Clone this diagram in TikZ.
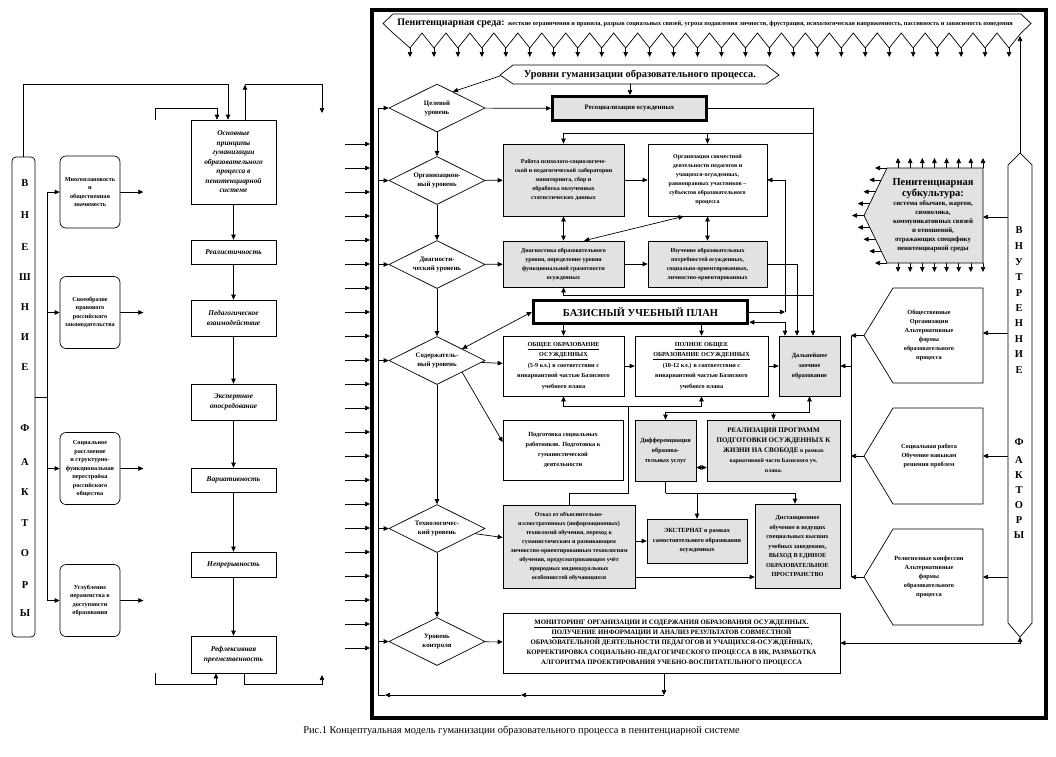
\documentclass[tikz,border=0pt]{standalone}
\usepackage{fontspec}
\setmainfont{Liberation Serif}
\usetikzlibrary{arrows.meta,calc,positioning,shapes.geometric}
\definecolor{boxgrey}{RGB}{226,226,226}

\begin{document}
\begin{tikzpicture}[
      x=1pt, y=-1pt,
      >={Triangle[length=5pt,width=4.5pt]},
      line width=0.7pt,
      box/.style={draw, align=center, inner sep=1pt, font=\fontsize{6}{9}\selectfont\bfseries},
      greybox/.style={box, fill=boxgrey},
      level/.style={diamond, draw, aspect=2, inner sep=0pt, minimum width=96pt, minimum height=48pt, align=center, font=\fontsize{6.8}{9}\selectfont\bfseries},
      principle/.style={draw, minimum width=85pt, align=center, inner sep=1pt, font=\fontsize{7.4}{9.5}\selectfont\bfseries\itshape},
      factor/.style={draw, rounded corners=6pt, minimum width=60pt, minimum height=72pt, align=center, inner sep=1pt, font=\fontsize{6.2}{8.5}\selectfont\bfseries},
      letter/.style={font=\fontsize{10.5}{10.5}\selectfont\bfseries, inner sep=0pt},
      small/.style={font=\fontsize{6.3}{9}\selectfont\bfseries, align=center, inner sep=0pt}
    ]
    \useasboundingbox (0,0) rectangle (1056,756);

    % -------- ВНЕШНИЕ ФАКТОРЫ --------
    \node[draw, rounded corners=4pt, minimum width=23pt, minimum height=480pt, inner sep=0pt] (ext) at (23.5,397) {};
    \foreach \ch/\yy [count=\i] in {В/183,Н/215,Е/247,Ш/277,Н/307,И/337,Е/367,Ф/428,А/462,К/492,Т/523,О/553,Р/585,Ы/613}
      \node[letter] (extch\i) at (25,\yy) {\ch};

    \node[factor] (f1) at (90,192) {Многоплановость\\ и\\ общественная\\ значимость};
    \node[factor] (f2) at (90,312.5) {Своеобразие\\ правового\\ российского\\ законодательства};
    \node[factor] (f3) at (90,468.5) {Социальное\\ расслоение\\ и структурно-\\ функциональная\\ перестройка\\ российского\\ общества};
    \node[factor] (f4) at (90,600.5) {Углубление\\ неравенства в\\ доступности\\ образования};

    \coordinate (extbus) at (47,397);
    \draw (ext.east) -- (extbus);
    \draw (extbus |- f1.west) -- (extbus |- f4.west);
    \foreach \f in {f1,f2,f3,f4}{
      \draw[->] (extbus |- \f.west) -- (\f.west);
      \draw[->] (\f.east) -- ++(23,0);
    }

    % -------- принципы --------
    \node[principle, minimum height=84pt] (p1) at (233.5,162) {Основные\\ принципы\\ гуманизации\\ образовательного\\ процесса в\\ пенитенциарной\\ системе};
    \node[principle, minimum height=24pt] (p2) at (233.5,252) {Реалистичность};
    \node[principle, minimum height=36pt] (p3) at (233.5,318) {Педагогическое\\ взаимодействие};
    \node[principle, minimum height=36pt] (p4) at (233.5,402) {Экспертное\\ опосредование};
    \node[principle, minimum height=24pt] (p5) at (233.5,480) {Вариативность};
    \node[principle, minimum height=25pt] (p6) at (233.5,564.5) {Непрерывность};
    \node[principle, minimum height=37pt] (p7) at (233.5,654.5) {Рефлексивная\\ преемственность};
    \foreach \a/\b in {p1/p2,p2/p3,p3/p4,p4/p5,p5/p6,p6/p7}
      \draw[->] (\a) -- (\b);

    \draw[->] (ext.north) |- ([xshift=-5.5pt,yshift=35pt]p1.north) -- ([xshift=-5.5pt]p1.north);
    \coordinate (stubA) at (155,120);
    \draw[->] (stubA) |- ([xshift=-16.5pt,yshift=11pt]p1.north) -- ([xshift=-16.5pt]p1.north);
    \coordinate (p1up) at ([xshift=11.5pt,yshift=35pt]p1.north);
    \draw[->] ([xshift=11.5pt]p1.north) -- (p1up);
    \coordinate (stubB) at (322,113);
    \draw[->] (p1up) -| (stubB);
    \coordinate (stubC) at (155,673);
    \draw[->] (stubC) |- ([xshift=-17.5pt,yshift=-11pt]p7.south) -- ([xshift=-17.5pt]p7.south);
    \coordinate (stubD) at (322,675);
    \draw[->] ([xshift=10.5pt]p7.south) |- ([yshift=-9pt]stubD) -- (stubD);

    \foreach \k in {0,...,21}
      \draw[->] (345,{144+24*\k}) -- (370,{144+24*\k});

    % -------- рамка и среда --------
    \node[draw, line width=3.5pt, minimum width=674pt, minimum height=708pt, inner sep=0pt] (frame) at (709,364) {};

    \draw (393,33) \foreach \k in {0,...,25} { -- ({410+23.96*\k},48) -- ({422+23.96*\k},33) }
      -- (1031,23.5) -- (1021,14) -- (393,14) -- (383,23.5) -- cycle;
    \foreach \k in {0,...,25}
      \draw[->] ({410+23.96*\k},48) -- ({410+23.96*\k},57);
    \node[anchor=west, inner sep=0pt] (env) at (397,23.5)
      {{\fontsize{10}{10}\selectfont\bfseries Пенитенциарная среда:} {\fontsize{6.3}{7}\selectfont\bfseries жесткие ограничения и правила, разрыв социальных связей, угроза подавления личности, фрустрация, психологическая напряженность, пассивность и зависимость поведения}};

    \draw (500,75) -- (513,65) -- (766,65) -- (779,75) -- (766,84) -- (513,84) -- cycle;
    \node[font=\fontsize{10.4}{11}\selectfont\bfseries] (levels) at (640,74.5) {Уровни гуманизации образовательного процесса.};
    \coordinate (levW) at (500,76);
    \coordinate (levS) at (630,84);

    % -------- уровни --------
    \node[level] (d1) at (437,108) {Целевой\\ уровень};
    \node[level] (d2) at (437,180.5) {Организацион-\\ ный уровень};
    \node[level] (d3) at (437,264.5) {Диагности-\\ ческий уровень};
    \node[level] (d4) at (437,360.5) {Содержатель-\\ ный уровень};
    \node[level] (d5) at (437,528.5) {Технологичес-\\ кий уровень};
    \node[level] (d6) at (437,641.5) {Уровень\\ контроля};
    \foreach \a/\b in {d1/d2,d2/d3,d3/d4,d4/d5,d5/d6}
      \draw[->] (\a) -- (\b);
    \draw[->] (levW) -- ($(d1.north)!0.33!(d1.east)$);

    % -------- блоки --------
    \node[greybox, line width=3pt, minimum width=154pt, minimum height=24pt, font=\fontsize{6.8}{9}\selectfont\bfseries] (resoc) at (629.5,108.5) {Ресоциализация осужденных};
    \node[greybox, minimum width=121pt, minimum height=72pt] (rab) at (563.5,180) {Работа психолого-социологиче-\\ской и педагогической лаборатории\\ мониторинга, сбор и\\ обработка полученных\\ статистических данных};
    \node[box, minimum width=119pt, minimum height=72pt] (org) at (707.5,180) {Организация совместной\\ деятельности педагогов и\\ учащихся-осужденных,\\ равноправных участников –\\ субъектов образовательного\\ процесса};
    \node[greybox, minimum width=121pt, minimum height=46pt] (diag) at (563.5,264) {Диагностика образовательного\\ уровня, определение уровня\\ функциональной грамотности\\ осужденных};
    \node[greybox, minimum width=119pt, minimum height=46pt] (izu) at (707.5,264) {Изучение образовательных\\ потребностей осужденных,\\ социально-ориентированных,\\ личностно-ориентированных};
    \node[box, line width=3.5pt, minimum width=214pt, minimum height=23pt, font=\fontsize{10.5}{11}\selectfont\bfseries] (basis) at (640.5,312) {БАЗИСНЫЙ УЧЕБНЫЙ ПЛАН};
    \node[box, minimum width=121pt, minimum height=60pt, font=\fontsize{6.2}{10.5}\selectfont\bfseries] (obs) at (563.5,366) {\underline{ОБЩЕЕ ОБРАЗОВАНИЕ}\\ \underline{ОСУЖДЕННЫХ}\\ (5-9 кл.) в соответствии с\\ инвариантной частью Базисного\\ учебного плана};
    \node[box, minimum width=133pt, minimum height=60pt, font=\fontsize{6.2}{10.5}\selectfont\bfseries] (pol) at (701.5,366) {\underline{ПОЛНОЕ ОБЩЕЕ}\\ \underline{ОБРАЗОВАНИЕ ОСУЖДЕННЫХ}\\ (10-12 кл.) в соответствии с\\ инвариантной частью Базисного\\ учебного плана};
    \node[greybox, minimum width=61pt, minimum height=60pt, font=\fontsize{6.3}{10}\selectfont\bfseries] (dal) at (809.5,366) {Дальнейшее\\ заочное\\ образование};
    \node[box, minimum width=120pt, minimum height=60pt, font=\fontsize{6.3}{10}\selectfont\bfseries] (pod) at (563,450) {Подготовка социальных\\ работников. Подготовка к\\ гуманистической\\ деятельности};
    \node[greybox, minimum width=61pt, minimum height=61pt, font=\fontsize{6.3}{10}\selectfont\bfseries] (dif) at (665.5,450.5) {Дифференциация\\ образова-\\ тельных услуг};
    \node[greybox, minimum width=133pt, minimum height=61pt, font=\fontsize{7}{10}\selectfont\bfseries] (real) at (773.5,450.5) {РЕАЛИЗАЦИЯ ПРОГРАММ\\ ПОДГОТОВКИ ОСУЖДЕННЫХ К\\ ЖИЗНИ НА СВОБОДЕ {\fontsize{5.8}{10}\selectfont в рамках}\\ {\fontsize{5.8}{10}\selectfont вариативной части Базисного уч.}\\ {\fontsize{5.8}{10}\selectfont плана.}};
    \node[greybox, minimum width=132pt, minimum height=83pt] (otk) at (569,546.5) {Отказ от объяснительно-\\ иллюстративных (информационных)\\ технологий обучения, переход к\\ гуманистическим и развивающим\\ личностно-ориентированным технологиям\\ обучения, предусматривающим учёт\\ природных индивидуальных\\ особенностей обучающихся};
    \node[greybox, minimum width=100pt, minimum height=44pt, font=\fontsize{6.3}{9.5}\selectfont\bfseries] (ekst) at (697,541) {ЭКСТЕРНАТ в рамках\\ самостоятельного образования\\ осужденных};
    \node[greybox, minimum width=85pt, minimum height=84pt, font=\fontsize{6.2}{9.5}\selectfont\bfseries] (dist) at (797.5,546) {Дистанционное\\ обучение в ведущих\\ специальных высших\\ учебных заведениях,\\ ВЫХОД В ЕДИНОЕ\\ ОБРАЗОВАТЕЛЬНОЕ\\ ПРОСТРАНСТВО};
    \node[box, minimum width=337pt, minimum height=60pt, font=\fontsize{6.8}{10}\selectfont\bfseries] (mon) at (671.5,643) {\underline{МОНИТОРИНГ ОРГАНИЗАЦИИ И СОДЕРЖАНИЯ ОБРАЗОВАНИЯ ОСУЖДЕННЫХ.}\\ \underline{ПОЛУЧЕНИЕ ИНФОРМАЦИИ И АНАЛИЗ РЕЗУЛЬТАТОВ СОВМЕСТНОЙ}\\ ОБРАЗОВАТЕЛЬНОЙ ДЕЯТЕЛЬНОСТИ ПЕДАГОГОВ И УЧАЩИХСЯ-ОСУЖДЕННЫХ,\\ КОРРЕКТИРОВКА СОЦИАЛЬНО-ПЕДАГОГИЧЕСКОГО ПРОЦЕССА В ИК, РАЗРАБОТКА\\ АЛГОРИТМА ПРОЕКТИРОВАНИЯ УЧЕБНО-ВОСПИТАТЕЛЬНОГО ПРОЦЕССА};

    % связи уровней с блоками
    \draw[->] (levS) -- (levS |- resoc.north);
    \draw[->] (d1) -- (resoc);
    \draw[->] (d2) -- (rab);
    \draw[->] (rab) -- (org);
    \draw[->] (d3) -- (diag);
    \draw[->] (diag) -- (izu);
    \draw[<->] (rab) -- (diag);
    \draw[<->] (org) -- (izu);
    \draw[<->] ($(org.south west)!0.3!(org.south east)$) -- ($(diag.north west)!0.67!(diag.north east)$);
    \draw[->] (d4) -- (obs);
    \draw[->] (obs) -- (pol);
    \draw[->] (pol) -- (dal);
    \draw[->] (basis.south -| obs.north) -- (obs.north);
    \draw[->] (basis.south -| pol.north) -- (pol.north);
    \draw[<->] ($(d4.north)!0.52!(d4.east)$) -- (basis.west);
    \draw[->] ($(d4.east)!0.48!(d4.south)$) -- ([yshift=8pt]pod.west);
    \draw[->] (d5) -- (otk);
    \draw[->] (d6) -- (mon);

    \draw[->] (resoc.east) -| ([xshift=3.5pt]dal.north);
    \coordinate (jR) at (813,133);
    \draw[->] (jR) -| (rab.north);
    \draw[->] (org.north |- jR) -- (org.north);
    \coordinate (jD) at (813,295);
    \draw[->] (jD) -| (diag.south);
    \draw[->] (izu.east) -| ([xshift=-12.5pt]dal.north);
    \coordinate (jB) at (785,313);
    \draw[->] (basis.east) -- (basis.east -| jB);
    \draw[->] (basis.east -| jB) |- (org.east);
    \draw[<->] ([yshift=3pt]basis.south east) -| ([xshift=-24.5pt]dal.north);

    \coordinate (jO) at (628,406);
    \coordinate (jO2) at (628,493);
    \draw (otk.north) |- (jO2) -- (jO);
    \draw[->] (jO) -| (obs.south);
    \draw[->] (jO) -| (pol.south);

    \coordinate (jF) at (809.5,412);
    \draw[->] (jF) -- (dal.south);
    \draw[->] (jF) -| (dif.north);
    \draw[->] (real.north |- jF) -- (real.north);
    \draw[<->] ([yshift=-17pt]dif.east) -- ([yshift=-17pt]real.west);

    \coordinate (jE) at (665.5,493);
    \draw (dif.south) -- (jE);
    \draw[->] (jE) -| ([xshift=-2.5pt]dist.north);
    \draw[->] (ekst.north |- jE) -- (ekst.north);
    \draw[->] (otk.east |- ekst.west) -- (ekst.west);
    \coordinate (dIn) at ([yshift=-31pt]dist.west);
    \draw[->] (otk.east |- dIn) -- (dIn);

    % обратная связь
    \coordinate (bL) at (378,695);
    \coordinate (mB) at (664,695);
    \draw[->] ([xshift=-7.5pt]mon.south) -- (mB);
    \draw[->] (mB) -- ($(mB)!0.5!(bL)$);
    \draw[->] ($(mB)!0.5!(bL)$) -- ([xshift=7pt]bL);
    \draw ([xshift=7pt]bL) -- (bL) -- (bL |- d1.west);
    \foreach \lv in {d1,d2,d3,d4,d5,d6}
      \draw[->] (bL |- \lv.west) -- (\lv.west);

    % -------- ВНУТРЕННИЕ ФАКТОРЫ --------
    \draw[fill=boxgrey] (887,168) -- (983,168) -- (983,263) -- (887,263) -- (864,215.5) -- cycle;
    \node[small, font=\fontsize{6.8}{9}\selectfont\bfseries] (sub) at (933,215.5) {\fontsize{10.5}{12}\selectfont Пенитенциарная\\ \fontsize{10.5}{12}\selectfont субкультура:\\ система обычаев, жаргон,\\ символика,\\ коммуникативных связей\\ и отношений,\\ отражающих специфику\\ пенитенциарной среды};
    \foreach \k in {0,...,7}{
      \draw[->] ({898+12.14*\k},168) -- ++(0,-10);
      \draw[->] ({898+12.14*\k},263) -- ++(0,9);
    }
    \foreach \k in {0,...,8}{
      \pgfmathsetmacro\yy{168+11.875*\k}
      \pgfmathsetmacro\xx{\yy<215.5 ? 887-(\yy-168)*23/47.5 : 864+(\yy-215.5)*23/47.5}
      \draw[->] (\xx,\yy) -- ++(-12,0);
    }

    \draw (893,288) -- (983,288) -- (983,383) -- (893,383) -- (864,335.5) -- cycle;
    \node[small] (obsch) at (929,335.5) {Общественные\\ Организации\\ Альтернативные\\ формы\\ образовательного\\ процесса};
    \draw (893,408) -- (983,408) -- (983,504) -- (893,504) -- (864,456) -- cycle;
    \node[small] (soc) at (929,456) {Социальная работа\\ Обучение навыкам\\ решения проблем};
    \draw (893,529) -- (983,529) -- (983,625) -- (893,625) -- (864,577) -- cycle;
    \node[small] (rel) at (929,577) {Религиозные конфессии\\ Альтернативные\\ формы\\ образовательного\\ процесса};
    \coordinate (subE) at (983,217);
    \coordinate (obsE) at (983,333);
    \coordinate (socE) at (983,456);
    \coordinate (relE) at (983,577);
    \coordinate (obsW) at (864,335.5);
    \coordinate (socW) at (864,456);
    \coordinate (relW) at (864,577);

    \draw (1008,165) -- (1020,153) -- (1032,165) -- (1032,623) -- (1020,637) -- (1008,623) -- cycle;
    \coordinate (intTop) at (1020,153);
    \coordinate (intBot) at (1020,637);
    \coordinate (intW) at (1008,395);
    \coordinate (envBR) at (1020,36);
    \foreach \ch/\yy [count=\i] in {В/230,Н/246,У/262,Т/277,Р/293,Е/308,Н/323,Н/339,И/354,Е/370,Ф/442,А/460,К/475,Т/490,О/505,Р/520,Ы/535}
      \node[letter] (intch\i) at (1019,\yy) {\ch};
    \foreach \s in {subE,obsE,socE,relE}
      \draw[->] (intW |- \s) -- (\s);
    \draw[->] (intTop) -- (envBR);
    \draw[<->] (intBot) |- (mon.east);

    \coordinate (rbus) at (851,362);
    \draw (rbus |- obsW) -- (rbus |- relW);
    \foreach \s in {obsW,socW,relW}
      \draw[->] (\s) -- (rbus |- \s);
    \draw[->] (rbus |- dal.east) -- (dal.east);

    \node[anchor=west, inner sep=0pt, font=\fontsize{10.4}{11}\selectfont] (caption) at (303,731) {Рис.1 Концептуальная модель гуманизации образовательного процесса в пенитенциарной системе};
\end{tikzpicture}
\end{document}
